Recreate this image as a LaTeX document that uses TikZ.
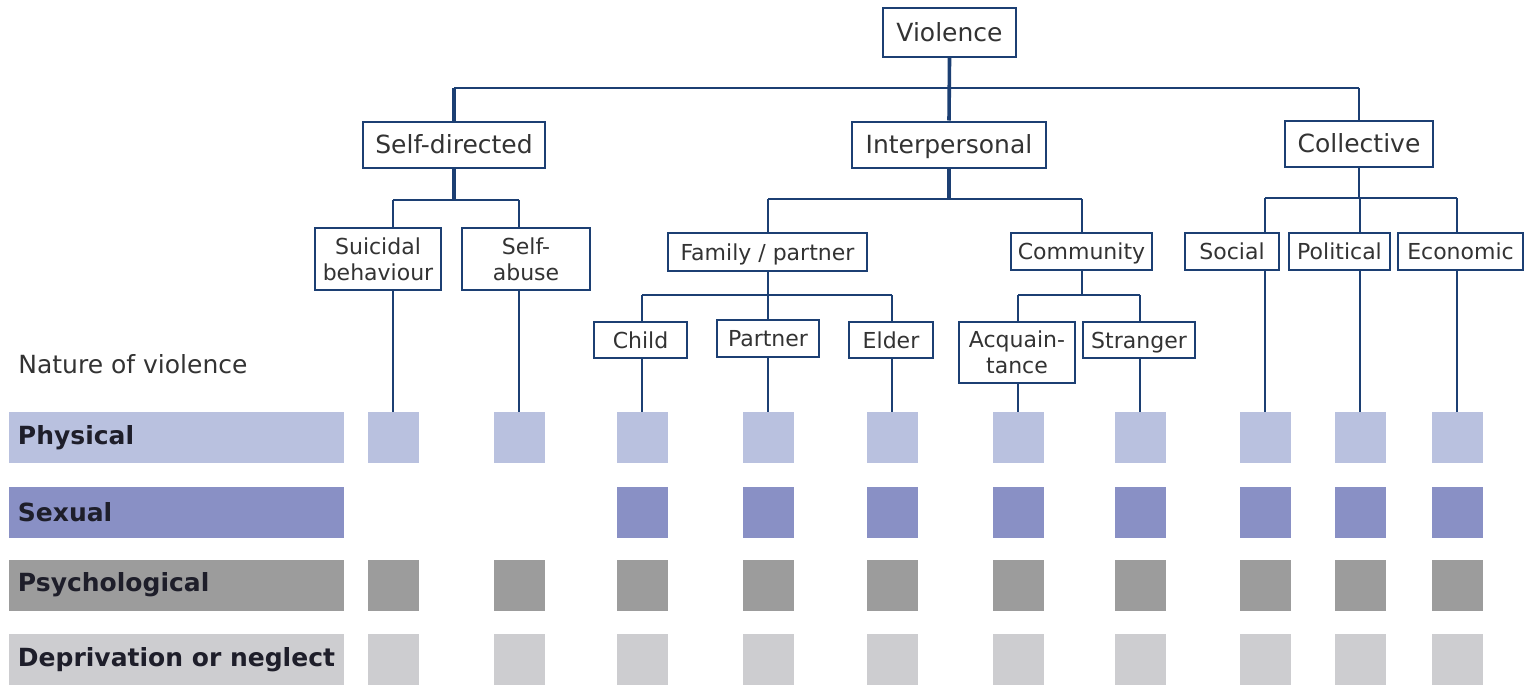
\documentclass[tikz,border=0pt]{standalone}
\usepackage{fontspec}
\setmainfont{DejaVu Sans}
\definecolor{linec}{HTML}{1C3F73}
\definecolor{txt}{HTML}{333333}
\definecolor{labtxt}{HTML}{1E1E2A}
\definecolor{physc}{HTML}{B9C1DF}
\definecolor{sexc}{HTML}{8990C5}
\definecolor{psyc}{HTML}{9C9C9C}
\definecolor{depc}{HTML}{CDCDD0}
\begin{document}
\begin{tikzpicture}[x=0.5pt,y=-0.5pt,
  box/.style={draw=linec, line width=1pt, fill=white, text=txt, inner sep=0pt,
    font=\fontsize{12.5}{14}\selectfont, text height=9.1pt, text depth=0pt},
  mbox/.style={draw=linec, line width=1pt, fill=white, text=txt, inner sep=0pt,
    align=center, font=\fontsize{11}{13}\selectfont},
  sbox/.style={draw=linec, line width=1pt, fill=white, text=txt, inner sep=0pt,
    font=\fontsize{11}{12}\selectfont, text height=8pt, text depth=0pt},
  conn/.style={draw=linec, line width=1.05pt},
  tconn/.style={draw=linec, line width=1.8pt},
  sq/.style={draw=none, inner sep=0pt, minimum width=25.5pt, minimum height=25.5pt},
  bar/.style={draw=none, inner sep=0pt, minimum width=167.5pt, minimum height=25.5pt},
  lab/.style={anchor=west, text=labtxt, inner sep=0pt, font=\fontsize{12.5}{14}\selectfont\bfseries}
]
\useasboundingbox (0,0) rectangle (1524,686);
\fill[white] (0,0) rectangle (1524,686);

% ---- tree boxes ----
\node[box, minimum width=66.5pt, minimum height=24.5pt] (viol) at (949.5,32.5) {Violence};
\node[box, minimum width=91pt, minimum height=23pt] (self) at (454,144.5) {Self-directed};
\node[box, minimum width=97pt, minimum height=23pt] (inter) at (949,144.5) {Interpersonal};
\node[box, minimum width=74pt, minimum height=23pt] (coll) at (1359,143.5) {Collective};

\node[mbox, minimum width=63pt, minimum height=31pt] (suic) at (378,259) {Suicidal\\behaviour};
\node[mbox, minimum width=64pt, minimum height=31pt] (sabuse) at (526,259) {Self-\\abuse};
\node[sbox, minimum width=99.5pt, minimum height=19pt] (fam) at (767.5,252) {Family / partner};
\node[sbox, minimum width=70.5pt, minimum height=18.5pt] (comm) at (1081.5,251.5) {Community};
\node[sbox, minimum width=47pt, minimum height=18.5pt] (soc) at (1232,251.5) {Social};
\node[sbox, minimum width=50.5pt, minimum height=18.5pt] (pol) at (1339.5,251.5) {Political};
\node[sbox, minimum width=62.5pt, minimum height=18.5pt] (eco) at (1460.5,251.5) {Economic};
\node[sbox, minimum width=46.5pt, minimum height=18pt] (child) at (640.5,340) {Child};
\node[sbox, minimum width=51pt, minimum height=18.5pt] (partner) at (768,338.5) {Partner};
\node[sbox, minimum width=42pt, minimum height=18pt] (elder) at (891,340) {Elder};
\node[mbox, minimum width=58pt, minimum height=30.5pt] (acq) at (1017,352.5) {Acquain-\\tance};
\node[sbox, minimum width=56pt, minimum height=18pt] (stranger) at (1139,340) {Stranger};

% ---- left labels ----
\node[anchor=west, text=txt, inner sep=0pt, font=\fontsize{12.5}{14}\selectfont] (nature) at (18,364) {Nature of violence};
\node[bar, fill=physc] (bphys) at (176.5,437.5) {};
\node[bar, fill=sexc]  (bsex)  at (176.5,512.5) {};
\node[bar, fill=psyc]  (bpsy)  at (176.5,585) {};
\node[bar, fill=depc]  (bdep)  at (176.5,659.5) {};
\node[lab] (lphys) at ([xshift=4.5pt]bphys.west) {Physical};
\node[lab] (lsex)  at ([xshift=4.5pt]bsex.west)  {Sexual};
\node[lab] (lpsy)  at ([xshift=4.5pt]bpsy.west)  {Psychological};
\node[lab] (ldep)  at ([xshift=4.5pt]bdep.west)  {Deprivation or neglect};

% ---- squares ----
\foreach \i/\x in {1/393,2/519,3/642,4/768,5/892,6/1018,7/1140,8/1265,9/1360,10/1457}{
  \node[sq, fill=physc] (p\i) at (\x,437.5) {};
  \node[sq, fill=psyc]  (y\i) at (\x,585) {};
  \node[sq, fill=depc]  (d\i) at (\x,659.5) {};
}
\foreach \i/\x in {3/642,4/768,5/892,6/1018,7/1140,8/1265,9/1360,10/1457}{
  \node[sq, fill=sexc] (s\i) at (\x,512.5) {};
}

% ---- connectors ----
\coordinate (jt) at (949,88);
\coordinate (js) at (454,200);
\coordinate (ji) at (949,199);
\coordinate (jf) at (768,295);
\coordinate (jc) at (1082,295);
\coordinate (jl) at (1359,198);

% level 1
\draw[conn] (self.north |- jt) -- (coll.north |- jt);
\draw[tconn] (viol.south) -- (inter.north);
\draw[tconn] (self.north |- jt) -- (self.north);
\draw[conn] (coll.north |- jt) -- (coll.north);

% self-directed
\draw[tconn] (self.south) -- (js);
\draw[conn] (js -| p1) -- (js -| p2);
\draw[conn] (js -| p1) -- (suic.north -| p1);
\draw[conn] (js -| p2) -- (sabuse.north -| p2);
\draw[conn] (suic.south -| p1) -- (p1.north);
\draw[conn] (sabuse.south -| p2) -- (p2.north);

% interpersonal
\draw[tconn] (inter.south) -- (ji);
\draw[conn] (ji -| jf) -- (ji -| jc);
\draw[conn] (ji -| jf) -- (fam.north -| jf);
\draw[conn] (ji -| jc) -- (comm.north -| jc);
% family
\draw[conn] (fam.south -| jf) -- (jf);
\draw[conn] (jf -| p3) -- (jf -| p5);
\draw[conn] (jf -| p3) -- (child.north -| p3);
\draw[conn] (jf -| p4) -- (partner.north -| p4);
\draw[conn] (jf -| p5) -- (elder.north -| p5);
\draw[conn] (child.south -| p3) -- (p3.north);
\draw[conn] (partner.south -| p4) -- (p4.north);
\draw[conn] (elder.south -| p5) -- (p5.north);
% community
\draw[conn] (comm.south -| jc) -- (jc);
\draw[conn] (jc -| p6) -- (jc -| p7);
\draw[conn] (jc -| p6) -- (acq.north -| p6);
\draw[conn] (jc -| p7) -- (stranger.north -| p7);
\draw[conn] (acq.south -| p6) -- (p6.north);
\draw[conn] (stranger.south -| p7) -- (p7.north);

% collective
\draw[conn] (coll.south) -- (coll.south |- jl);
\draw[conn] (jl -| p8) -- (jl -| p10);
\draw[conn] (jl -| p8) -- (soc.north -| p8);
\draw[conn] (jl -| p9) -- (pol.north -| p9);
\draw[conn] (jl -| p10) -- (eco.north -| p10);
\draw[conn] (soc.south -| p8) -- (p8.north);
\draw[conn] (pol.south -| p9) -- (p9.north);
\draw[conn] (eco.south -| p10) -- (p10.north);
\end{tikzpicture}
\end{document}
